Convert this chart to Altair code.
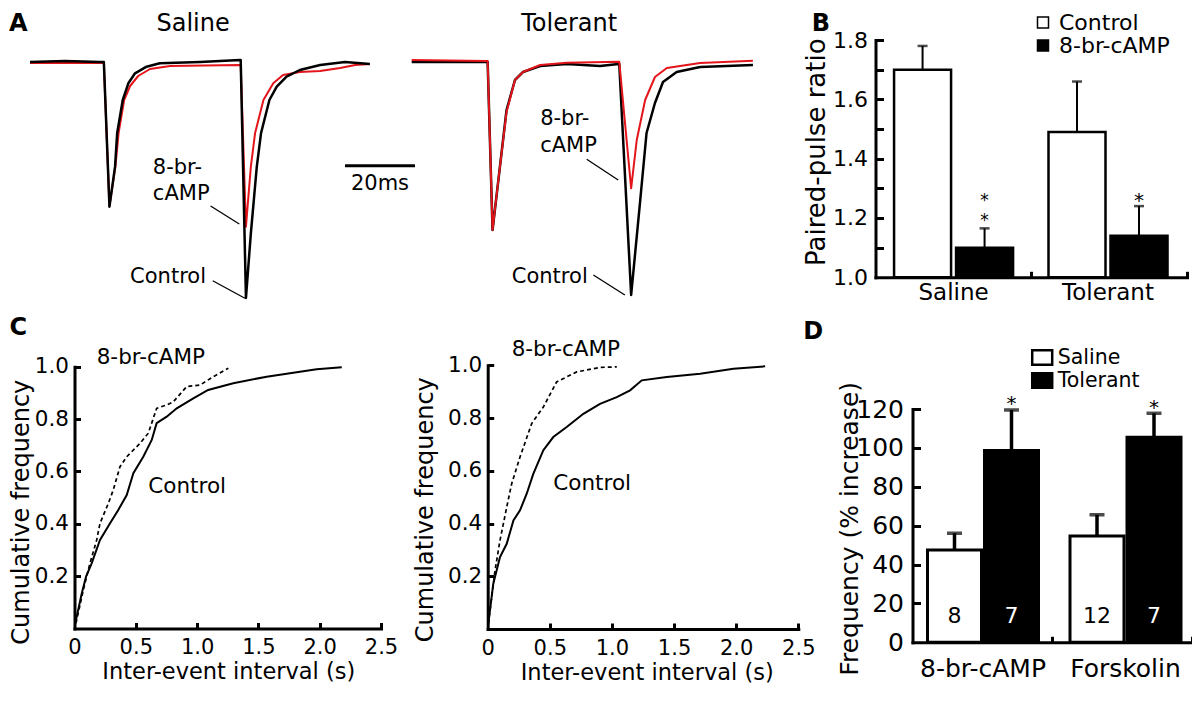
import altair as alt
import pandas as pd

W, H = 1184, 709
FONT = "DejaVu Sans"
RED = "#e3151b"

# ---------------- Panel A: paired EPSC traces (time, ms ; current, pA) ----------------
sal_ctrl_t = [0, 10, 20, 21.1, 22.7, 24.3, 24.9, 26.5, 28.1, 30.0, 33.3, 37.1, 48.6, 60.0, 60.2,
              61.7, 63.1, 64.8, 66.0, 68.4, 70.5, 73.3, 77.1, 82.9, 90.0, 97.1]
sal_ctrl_a = [-0.5, 0.5, -0.5, -0.5, -145.2, -105.2, -71.8, -38.5, -21.8, -11.8, -5.2, -1.8, -0.5, 1.5, 1.5,
              -236.5, -171.8, -105.2, -71.8, -38.5, -25.2, -15.2, -8.5, -3.5, -0.5, -2.5]
sal_camp_t = [0, 20, 21.1, 22.7, 24.4, 25.3, 26.9, 28.6, 30.9, 34.3, 40.0, 60.0, 60.2,
              61.7, 63.1, 64.3, 66.7, 69.5, 72.3, 77.1, 82.9, 88.6, 92.9, 97.1]
sal_camp_a = [-1.5, -1.5, -1.5, -144.5, -105.2, -71.8, -38.5, -24.5, -14.5, -7.5, -4.5, -3.5, -3.5,
              -165.2, -105.2, -71.8, -38.5, -21.8, -13.5, -10.5, -9.5, -6.5, -3.5, -2.5]
tol_ctrl_t = [0, 10.9, 21.4, 21.7, 23.1, 25.2, 27.1, 29.5, 31.8, 36.7, 44.3, 53.8, 59.1, 59.3,
              62.7, 65.3, 67.1, 69.5, 71.8, 75.7, 82.4, 97.5]
tol_ctrl_a = [-0.5, -0.5, -0.5, -0.5, -168.5, -105.5, -48.5, -18.5, -10.5, -4.5, -2.5, -4.5, -2.5, -2.5,
              -233.5, -138.5, -71.5, -41.5, -20.5, -10.5, -5.5, -3.5]
tol_camp_t = [0, 21.4, 21.7, 23.1, 25.2, 27.1, 29.5, 31.8, 36.7, 44.3, 59.1, 59.3,
              62.7, 64.3, 66.7, 69.5, 72.9, 82.4, 97.5]
tol_camp_a = [1.5, 0.5, 0.5, -168.5, -105.5, -50.5, -18.5, -10.5, -3.5, -1.2, -0.2, -0.2,
              -126.8, -78.5, -38.5, -15.5, -6.5, -1.5, 0.8]
scalebar_ms = 20

# ---------------- Panel B: paired-pulse ratio ----------------
b_groups = ["Saline", "Saline", "Tolerant", "Tolerant"]
b_conds = ["Control", "8-br-cAMP", "Control", "8-br-cAMP"]
b_means = [1.70, 1.10, 1.49, 1.14]
b_errs = [0.08, 0.065, 0.17, 0.10]
b_nstars = [0, 2, 0, 1]

# ---------------- Panel C: cumulative inter-event interval ----------------
cl_ctrl_x = [0.012, 0.059, 0.094, 0.14, 0.208, 0.29, 0.357, 0.426, 0.48, 0.561, 0.63, 0.67, 0.752,
             0.834, 0.969, 1.09, 1.295, 1.568, 1.839, 1.975, 2.18]
cl_ctrl_y = [0.032, 0.134, 0.198, 0.249, 0.338, 0.402, 0.453, 0.51, 0.593, 0.656, 0.72, 0.784, 0.809,
             0.841, 0.879, 0.911, 0.937, 0.962, 0.981, 0.99, 0.998]
cl_camp_x = [0.012, 0.072, 0.126, 0.181, 0.208, 0.276, 0.316, 0.371, 0.426, 0.534, 0.602, 0.67, 0.752,
             0.806, 0.915, 1.024, 1.132, 1.255]
cl_camp_y = [0.02, 0.147, 0.249, 0.338, 0.402, 0.478, 0.529, 0.618, 0.656, 0.707, 0.746, 0.841, 0.854,
             0.866, 0.924, 0.93, 0.962, 0.994]
cr_ctrl_x = [0.005, 0.045, 0.099, 0.153, 0.207, 0.26, 0.314, 0.367, 0.448, 0.528, 0.636, 0.77, 0.904,
             1.039, 1.146, 1.24, 1.441, 1.71, 1.978, 2.233]
cr_ctrl_y = [0.02, 0.172, 0.273, 0.323, 0.412, 0.45, 0.513, 0.588, 0.678, 0.728, 0.766, 0.816, 0.854,
             0.879, 0.905, 0.943, 0.956, 0.968, 0.987, 0.996]
cr_camp_x = [0.005, 0.059, 0.099, 0.153, 0.193, 0.26, 0.354, 0.448, 0.555, 0.716, 0.904, 1.039]
cr_camp_y = [0.02, 0.222, 0.336, 0.462, 0.551, 0.652, 0.779, 0.842, 0.937, 0.975, 0.992, 0.994]

# ---------------- Panel D: frequency increase ----------------
d_drugs = ["8-br-cAMP", "8-br-cAMP", "Forskolin", "Forskolin"]
d_groups = ["Saline", "Tolerant", "Saline", "Tolerant"]
d_means = [47.5, 98.6, 54.7, 105.5]
d_errs = [8.6, 20.9, 10.9, 12.3]
d_n = [8, 7, 12, 7]
d_nstars = [0, 1, 0, 1]

ONE = pd.DataFrame({"k": [0]})


# ---------------- helpers ----------------
def qscale(dom, rng):
    return alt.Scale(domain=dom, range=rng, nice=False, zero=False)


def ax_lab_x(axis_y, **kw):
    d = dict(orient="bottom", offset=axis_y - H, ticks=False, tickSize=0, domain=True, domainWidth=3,
             domainColor="black", domainCap="square", labelColor="black", labelFont=FONT,
             labelFlush=False, labelOverlap=False, grid=False, zindex=3, titleColor="black",
             titleFont=FONT, titleFontWeight="normal", titleBaseline="middle", titleAlign="center")
    d.update(kw)
    return alt.Axis(**d)


def ax_lab_y(axis_x, **kw):
    d = dict(orient="left", offset=-axis_x, ticks=False, tickSize=0, domain=True, domainWidth=3,
             domainColor="black", domainCap="square", labelColor="black", labelFont=FONT,
             labelOverlap=False, grid=False, zindex=3, titleColor="black", titleFont=FONT,
             titleFontWeight="normal", titleBaseline="middle", titleAlign="center", titleAngle=270)
    d.update(kw)
    return alt.Axis(**d)


def ax_tick_x(axis_y, values, size):
    return alt.Axis(orient="top", offset=-axis_y, values=values, ticks=True, tickSize=size, tickWidth=3,
                    tickColor="black", labels=False, domain=False, grid=False, title=None, zindex=3)


def ax_tick_y(axis_x, values, size):
    return alt.Axis(orient="right", offset=axis_x - W, values=values, ticks=True, tickSize=size,
                    tickWidth=3, tickColor="black", labels=False, domain=False, grid=False,
                    title=None, zindex=3)


def note(text, x, y, xs, ys, size, align="left", bold=False, baseline="middle"):
    return alt.Chart(ONE).mark_text(text=text, font=FONT, fontSize=size, align=align, baseline=baseline,
                                    fontWeight="bold" if bold else "normal", color="black").encode(
        x=alt.XDatum(datum=x, type="quantitative", scale=xs, axis=None),
        y=alt.YDatum(datum=y, type="quantitative", scale=ys, axis=None))


def letter(text, x, y, xs, ys):
    return note(text, x, y, xs, ys, 24, bold=True, baseline="alphabetic")


def leader(x1, y1, x2, y2, xs, ys, width=1.3):
    return alt.Chart(ONE).mark_rule(color="black", strokeWidth=width).encode(
        x=alt.XDatum(datum=x1, type="quantitative", scale=xs, axis=None), x2=alt.X2Datum(datum=x2),
        y=alt.YDatum(datum=y1, type="quantitative", scale=ys, axis=None), y2=alt.Y2Datum(datum=y2))


def trace(t, a, color, width, xs, ys):
    df = pd.DataFrame({"t": t, "a": a})
    return alt.Chart(df).mark_line(color=color, strokeWidth=width, strokeJoin="round").encode(
        x=alt.X("t:Q", scale=xs, axis=None), y=alt.Y("a:Q", scale=ys, axis=None))


layers = []

# ---------------- Panel A ----------------
A_Y = qscale([-240, 10], [293.5, 43.5])
A_SAL_X = qscale([0, 100], [22, 372])
A_TOL_X = qscale([0, 100], [403.7, 753.7])
layers += [
    trace(sal_camp_t, sal_camp_a, RED, 2.0, A_SAL_X, A_Y),
    trace(sal_ctrl_t, sal_ctrl_a, "black", 2.5, A_SAL_X, A_Y),
    letter("A", -6.0, 31, A_SAL_X, A_Y),
    note("Saline", 46.6, 37.5, A_SAL_X, A_Y, 24, align="center"),
    note("8-br-", 35.1, -106.5, A_SAL_X, A_Y, 21),
    note("cAMP", 35.1, -132.5, A_SAL_X, A_Y, 21),
    leader(51.6, -144.5, 59.8, -162.5, A_SAL_X, A_Y),
    note("Control", 28.6, -215.2, A_SAL_X, A_Y, 21),
    leader(52.2, -219.2, 61.4, -236.8, A_SAL_X, A_Y),
    leader(90, -104.2, 90 + scalebar_ms, -104.2, A_SAL_X, A_Y, width=3),
    note("20ms", 90 + scalebar_ms / 2, -122, A_SAL_X, A_Y, 21, align="center"),
    trace(tol_ctrl_t, tol_ctrl_a, "black", 2.5, A_TOL_X, A_Y),
    trace(tol_camp_t, tol_camp_a, RED, 2.0, A_TOL_X, A_Y),
    note("Tolerant", 45, 38, A_TOL_X, A_Y, 24, align="center"),
    note("8-br-", 36.7, -57.5, A_TOL_X, A_Y, 21),
    note("cAMP", 36.7, -84.5, A_TOL_X, A_Y, 21),
    leader(50, -97.8, 59, -118.5, A_TOL_X, A_Y),
    note("Control", 28.6, -215.2, A_TOL_X, A_Y, 21),
    leader(51.9, -213.5, 60.9, -233.5, A_TOL_X, A_Y),
]

# ---------------- Panel B ----------------
bdf = pd.DataFrame({"group": b_groups, "cond": b_conds, "mean": b_means, "err": b_errs,
                    "nstar": b_nstars})
bdf["upper"] = bdf["mean"] + bdf["err"]
B_AX_X, B_AX_Y = 867.5, 269.3
B_XR = [867.5, 1179]
B_XS = alt.Scale(type="band", domain=["Saline", "Tolerant"], range=B_XR, paddingInner=0.197,
                 paddingOuter=0.107, align=0.486)
B_XOS = alt.Scale(type="band", domain=["Control", "8-br-cAMP"], paddingInner=0.0806,
                  paddingOuter=0.0403)
B_YS = qscale([1.0, 1.8], [269.3, 32])
B_QX = qscale([0, 2], B_XR)


def bx(axis=None):
    return alt.X("group:N", scale=B_XS, axis=axis)


def bxo():
    return alt.XOffset("cond:N", scale=B_XOS)


b_fill = alt.Fill("cond:N", scale=alt.Scale(domain=["Control", "8-br-cAMP"], range=["white", "black"]),
                  legend=alt.Legend(orient="none", legendX=1024, legendY=3.75, title=None,
                                    symbolType="square", symbolSize=121, symbolStrokeColor="black",
                                    symbolStrokeWidth=1.5, labelFontSize=22, labelFont=FONT,
                                    labelColor="black", labelOffset=5, clipHeight=21.5, rowPadding=0,
                                    padding=0))
layers += [
    alt.Chart(bdf).mark_bar(stroke="black", strokeWidth=2.5).encode(
        x=bx(ax_lab_x(B_AX_Y, labelFontSize=23, labelPadding=4, labelAngle=0, title=None)),
        xOffset=bxo(),
        y=alt.Y("mean:Q", scale=B_YS,
                axis=ax_lab_y(B_AX_X, values=[1.0, 1.2, 1.4, 1.6, 1.8], format=".1f", labelFontSize=22,
                              labelPadding=8, title="Paired-pulse ratio", titleFontSize=26,
                              titleX=-58.8, titleY=143.7)),
        y2=alt.Y2Datum(datum=1.0), fill=b_fill),
    alt.Chart(bdf).mark_rule(color="black", strokeWidth=2).encode(
        x=bx(), xOffset=bxo(), y=alt.Y("mean:Q", scale=B_YS, axis=None), y2="upper:Q"),
    alt.Chart(bdf).mark_tick(color="black", thickness=2.5, size=10).encode(
        x=bx(), xOffset=bxo(), y=alt.Y("upper:Q", scale=B_YS, axis=None)),
    alt.Chart(bdf).transform_filter("datum.nstar == 1").mark_text(
        text="*", font=FONT, fontSize=20, baseline="bottom", dy=4.5, color="black").encode(
        x=bx(), xOffset=bxo(), y=alt.Y("upper:Q", scale=B_YS, axis=None)),
    alt.Chart(bdf).transform_filter("datum.nstar == 2").mark_text(
        text="*\n*", lineBreak="\n", lineHeight=20, font=FONT, fontSize=17, baseline="bottom", dy=-18,
        color="black").encode(
        x=bx(), xOffset=bxo(), y=alt.Y("upper:Q", scale=B_YS, axis=None)),
    alt.Chart(ONE).mark_point(opacity=0).encode(
        x=alt.X("k:Q", scale=B_QX, axis=ax_tick_x(B_AX_Y, [1, 2], 6)),
        y=alt.Y("k:Q", scale=B_YS,
                axis=ax_tick_y(B_AX_X, [1.1, 1.2, 1.3, 1.4, 1.5, 1.6, 1.7, 1.8], 8))),
    letter("B", -0.41, 1.832, B_QX, B_YS),
]


# ---------------- Panel C ----------------
def cum_panel(cx, cy, kx, ky, xr, yr, let, t8, tc, ytitle_x, ytitle_y, xtitle_x):
    xs = qscale([0, 2.5], xr)
    ys = qscale([0, 1], yr)
    ax_x, ax_y = xr[0], yr[0]
    ctrl = pd.DataFrame({"x": cx, "y": cy})
    camp = pd.DataFrame({"x": kx, "y": ky})
    xa = ax_lab_x(ax_y, values=[0, 0.5, 1.0, 1.5, 2.0, 2.5],
                  labelExpr="datum.value == 0 ? '0' : format(datum.value, '.1f')",
                  labelFontSize=21, labelPadding=8, title="Inter-event interval (s)",
                  titleFontSize=22.5, titleX=xtitle_x, titleY=43)
    ya = ax_lab_y(ax_x, values=[0.2, 0.4, 0.6, 0.8, 1.0], format=".1f", labelFontSize=21.5,
                  labelPadding=6, title="Cumulative frequency", titleFontSize=24,
                  titleX=ytitle_x, titleY=ytitle_y)
    out = [
        alt.Chart(ctrl).mark_line(color="black", strokeWidth=2).encode(
            x=alt.X("x:Q", scale=xs, axis=xa), y=alt.Y("y:Q", scale=ys, axis=ya)),
        alt.Chart(camp).mark_line(color="black", strokeWidth=1.7, strokeDash=[4, 3]).encode(
            x=alt.X("x:Q", scale=xs, axis=ax_tick_x(ax_y, [0.5, 1.0, 1.5, 2.0, 2.5], 6)),
            y=alt.Y("y:Q", scale=ys, axis=ax_tick_y(ax_x, [0.2, 0.4, 0.6, 0.8, 1.0], 6))),
        note("8-br-cAMP", t8[0], t8[1], xs, ys, 21.5),
        note("Control", tc[0], tc[1], xs, ys, 21.5),
    ]
    if let:
        out.append(letter(let[0], let[1], let[2], xs, ys))
    return out


layers += cum_panel(cl_ctrl_x, cl_ctrl_y, cl_camp_x, cl_camp_y, [66.5, 373], [620.5, 358.7],
                    ("C", -0.53, 1.122), (0.181, 1.032), (0.602, 0.542), -53.5, 503.7, 220.3)
layers += cum_panel(cr_ctrl_x, cr_ctrl_y, cr_camp_x, cr_camp_y, [479.7, 790.3], [621, 357.3],
                    None, (0.193, 1.059), (0.528, 0.55), -62.7, 501.2, 638.7)

# ---------------- Panel D ----------------
ddf = pd.DataFrame({"drug": d_drugs, "grp": d_groups, "mean": d_means, "err": d_errs, "n": d_n,
                    "nstar": d_nstars})
ddf["upper"] = ddf["mean"] + ddf["err"]
D_AX_X, D_AX_Y = 904.5, 634.3
D_XR = [904.5, 1184]
D_XS = alt.Scale(type="band", domain=["8-br-cAMP", "Forskolin"], range=D_XR, paddingInner=0.2,
                 paddingOuter=0.0807, align=0.587)
D_XOS = alt.Scale(type="band", domain=["Saline", "Tolerant"], paddingInner=0.0526, paddingOuter=0.0263)
D_YS = qscale([0, 120], [634.3, 401])
D_QX = qscale([0, 2], D_XR)


def dx(axis=None):
    return alt.X("drug:N", scale=D_XS, axis=axis)


def dxo():
    return alt.XOffset("grp:N", scale=D_XOS)


d_fill = alt.Fill("grp:N", scale=alt.Scale(domain=["Saline", "Tolerant"], range=["white", "black"]),
                  legend=alt.Legend(orient="none", legendX=1022.7, legendY=338, title=None,
                                    symbolType="M-1,-0.72L1,-0.72L1,0.72L-1,0.72Z", symbolSize=400,
                                    symbolStrokeColor="black", symbolStrokeWidth=2.5, labelFontSize=20.5,
                                    labelFont=FONT, labelColor="black", labelOffset=4, clipHeight=23,
                                    rowPadding=0, padding=0))
layers += [
    alt.Chart(ddf).mark_bar(stroke="black", strokeWidth=3).encode(
        x=dx(ax_lab_x(D_AX_Y, labelFontSize=25, labelPadding=14, labelAngle=0, title=None)),
        xOffset=dxo(),
        y=alt.Y("mean:Q", scale=D_YS,
                axis=ax_lab_y(D_AX_X, values=[0, 20, 40, 60, 80, 100, 120], labelFontSize=25,
                              labelPadding=9, title="Frequency (% increase)", titleFontSize=25,
                              titleX=-63.3, titleY=520.3)),
        y2=alt.Y2Datum(datum=0), fill=d_fill),
    alt.Chart(ddf).mark_rule(color="black", strokeWidth=3.5).encode(
        x=dx(), xOffset=dxo(), y=alt.Y("mean:Q", scale=D_YS, axis=None), y2="upper:Q"),
    alt.Chart(ddf).mark_tick(color="black", thickness=3.5, size=15).encode(
        x=dx(), xOffset=dxo(), y=alt.Y("upper:Q", scale=D_YS, axis=None)),
    alt.Chart(ddf).transform_filter("datum.nstar == 1").mark_text(
        text="*", font=FONT, fontSize=20, baseline="bottom", dy=4.5, color="black").encode(
        x=dx(), xOffset=dxo(), y=alt.Y("upper:Q", scale=D_YS, axis=None)),
    alt.Chart(ddf).mark_text(font=FONT, fontSize=22, baseline="middle").encode(
        x=dx(), xOffset=dxo(), y=alt.YDatum(datum=13.7, type="quantitative", scale=D_YS, axis=None),
        text="n:Q",
        color=alt.condition(alt.datum.grp == "Tolerant", alt.value("white"), alt.value("black"))),
    alt.Chart(ONE).mark_point(opacity=0).encode(
        x=alt.X("k:Q", scale=D_QX, axis=ax_tick_x(D_AX_Y, [1, 2], 6)),
        y=alt.Y("k:Q", scale=D_YS, axis=ax_tick_y(D_AX_X, [20, 40, 60, 80, 100, 120], 8))),
    letter("D", -0.781, 156.2, D_QX, D_YS),
]

chart = alt.layer(*layers).resolve_scale(
    x="independent", y="independent", fill="independent", xOffset="independent"
).resolve_axis(
    x="independent", y="independent"
).resolve_legend(
    fill="independent"
).properties(
    width=W, height=H, padding=0, autosize=alt.AutoSizeParams(type="none")
).configure(
    font=FONT
).configure_view(
    stroke="transparent"
)

chart.save("out.html", embed_options={"renderer": "svg", "actions": False})
